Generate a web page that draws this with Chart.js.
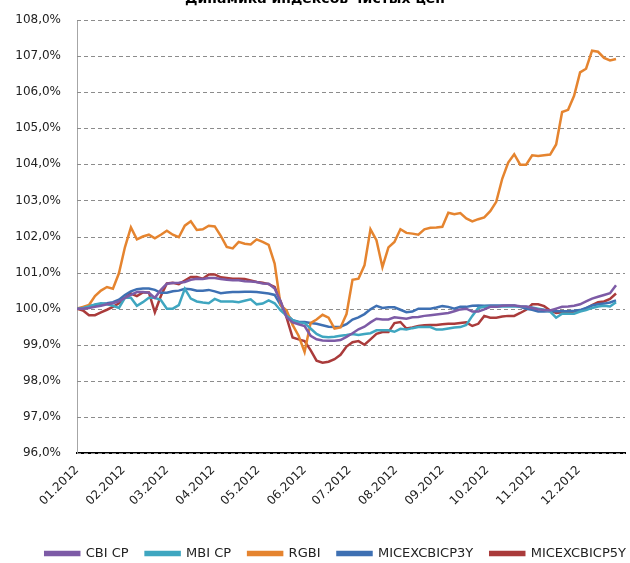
<!DOCTYPE html>
<html>
<head>
<meta charset="utf-8">
<script src="https://cdn.jsdelivr.net/npm/chart.js@4.4.1/dist/chart.umd.min.js"></script>
<style>
  body { margin: 0; background: #fff; }
  #wrap { width: 630px; height: 563px; position: relative; }
</style>
</head>
<body>
<div id="wrap"><canvas id="indexChart"></canvas></div>
<script>
// day of year 2012 for every sample (about every 4 days)
const days = [0, 4, 8, 12, 16, 20, 24, 28, 32, 36, 40, 44, 48, 52, 56, 60, 64, 68, 72, 76,
  80, 84, 88, 92, 96, 100, 104, 108, 112, 116, 120, 124, 128, 132, 136, 140, 144, 148, 152, 156,
  160, 164, 168, 172, 176, 180, 184, 188, 192, 196, 200, 204, 208, 212, 216, 220, 224, 228, 232, 236,
  240, 244, 248, 252, 256, 260, 264, 268, 272, 276, 280, 284, 288, 292, 296, 300, 304, 308, 312, 316,
  320, 324, 328, 332, 336, 340, 344, 348, 352, 356, 360];

const monthStarts = [0, 31, 60, 91, 121, 152, 182, 213, 244, 274, 305, 335];
const monthLabels = ['01.2012', '02.2012', '03.2012', '04.2012', '05.2012', '06.2012',
  '07.2012', '08.2012', '09.2012', '10.2012', '11.2012', '12.2012'];

const cbiCp = [100.0, 100.0, 100.02, 100.05, 100.08, 100.12, 100.15, 100.2, 100.3, 100.38,
  100.46, 100.46, 100.44, 100.3, 100.52, 100.69, 100.71, 100.72, 100.74, 100.8,
  100.83, 100.82, 100.85, 100.85, 100.82, 100.8, 100.79, 100.79, 100.76, 100.75,
  100.74, 100.7, 100.69, 100.56, 100.2, 99.76, 99.62, 99.57, 99.52, 99.25,
  99.15, 99.12, 99.11, 99.11, 99.13, 99.22, 99.32, 99.43, 99.5, 99.62,
  99.72, 99.7, 99.7, 99.76, 99.74, 99.72, 99.76, 99.77, 99.8, 99.82,
  99.84, 99.86, 99.88, 99.93, 99.98, 100.0, 99.92, 99.92, 99.98, 100.05,
  100.05, 100.08, 100.09, 100.09, 100.07, 100.06, 100.02, 99.98, 99.96, 99.95,
  100.0, 100.05, 100.06, 100.08, 100.12, 100.2, 100.28, 100.33, 100.38, 100.43, 100.65];

const mbiCp = [100.0, 100.02, 100.06, 100.12, 100.15, 100.12, 100.08, 100.02, 100.3, 100.3,
  100.08, 100.18, 100.3, 100.3, 100.24, 100.0, 100.0, 100.1, 100.55, 100.28,
  100.2, 100.17, 100.15, 100.27, 100.2, 100.2, 100.2, 100.18, 100.22, 100.26,
  100.12, 100.14, 100.23, 100.15, 99.95, 99.8, 99.68, 99.62, 99.6, 99.45,
  99.3, 99.22, 99.21, 99.22, 99.25, 99.27, 99.3, 99.27, 99.3, 99.32,
  99.4, 99.4, 99.4, 99.36, 99.44, 99.42, 99.46, 99.49, 99.49, 99.49,
  99.42, 99.42, 99.45, 99.48, 99.49, 99.55, 99.8, 100.02, 100.05, 100.05,
  100.05, 100.06, 100.06, 100.06, 100.06, 100.05, 100.03, 100.0, 99.97, 99.92,
  99.75, 99.86, 99.86, 99.86, 99.92, 99.96, 100.02, 100.06, 100.08, 100.06, 100.18];

const rgbi = [100.0, 100.05, 100.1, 100.35, 100.5, 100.6, 100.55, 100.98, 101.7, 102.25,
  101.92, 102.0, 102.05, 101.95, 102.05, 102.16, 102.05, 101.98, 102.3, 102.42,
  102.18, 102.2, 102.3, 102.28, 102.02, 101.71, 101.67, 101.85, 101.8, 101.78,
  101.92, 101.85, 101.77, 101.25, 100.1, 99.95, 99.55, 99.25, 98.8, 99.6,
  99.7, 99.83, 99.75, 99.45, 99.48, 99.85, 100.8, 100.83, 101.2, 102.2,
  101.9, 101.15, 101.7, 101.85, 102.2, 102.1, 102.08, 102.05, 102.2, 102.24,
  102.25, 102.27, 102.66, 102.62, 102.65, 102.5, 102.42, 102.48, 102.53, 102.7,
  102.96, 103.6, 104.05, 104.28, 103.99, 103.99, 104.25, 104.23, 104.25, 104.27,
  104.55, 105.45, 105.51, 105.9, 106.55, 106.65, 107.15, 107.12, 106.95, 106.88, 106.92];

const micex3y = [100.0, 100.02, 100.07, 100.1, 100.13, 100.15, 100.18, 100.25, 100.38, 100.48,
  100.54, 100.56, 100.56, 100.52, 100.44, 100.44, 100.48, 100.5, 100.55, 100.54,
  100.5, 100.5, 100.52, 100.48, 100.43, 100.45, 100.46, 100.46, 100.47, 100.47,
  100.46, 100.44, 100.42, 100.38, 100.1, 99.84, 99.68, 99.64, 99.63, 99.6,
  99.58, 99.54, 99.5, 99.49, 99.5, 99.57, 99.7, 99.76, 99.85, 99.98,
  100.08, 100.02, 100.04, 100.04, 99.97, 99.9, 99.92, 100.0, 100.0, 100.0,
  100.03, 100.07, 100.05, 100.0, 100.05, 100.05, 100.08, 100.09, 100.08, 100.09,
  100.09, 100.09, 100.09, 100.09, 100.05, 100.0, 99.97, 99.92, 99.92, 99.93,
  99.93, 99.93, 99.93, 99.94, 99.96, 100.02, 100.09, 100.12, 100.14, 100.17, 100.23];

const micex5y = [100.0, 99.95, 99.82, 99.82, 99.9, 99.97, 100.05, 100.15, 100.3, 100.42,
  100.35, 100.45, 100.45, 99.9, 100.35, 100.7, 100.72, 100.68, 100.78, 100.88,
  100.88, 100.83, 100.95, 100.95, 100.87, 100.85, 100.83, 100.83, 100.82, 100.78,
  100.74, 100.72, 100.68, 100.6, 100.2, 99.75, 99.2, 99.15, 99.1, 98.85,
  98.56, 98.5, 98.53, 98.6, 98.72, 98.95, 99.07, 99.1, 99.0, 99.15,
  99.3, 99.35, 99.35, 99.6, 99.63, 99.45, 99.48, 99.52, 99.54, 99.55,
  99.55, 99.57, 99.58, 99.58, 99.6, 99.62, 99.52, 99.58, 99.8, 99.75,
  99.75, 99.78, 99.8, 99.8, 99.88, 99.97, 100.12, 100.12, 100.07, 99.95,
  99.88, 99.9, 99.9, 99.92, 99.95, 100.0, 100.1, 100.18, 100.2, 100.27, 100.42];

const seriesNames = ['CBI CP', 'MBI CP', 'RGBI', 'MICEXCBICP3Y', 'MICEXCBICP5Y'];
const seriesColors = ['#7d5ba6', '#3fa6c0', '#e5842f', '#3e70b3', '#aa3b3b'];
const seriesValues = [cbiCp, mbiCp, rgbi, micex3y, micex5y];

const fontFamily = 'Tahoma, "DejaVu Sans", sans-serif';
const pad = { top: 20, right: 5, left: 0, bottom: -7 };

function toPoints(values) {
    return values.map((v, i) => ({ x: days[i], y: v }));
}

const extras = {
    id: 'extras',
    // the legend row in the reference runs almost to the right edge
    afterLayout(chart) {
        if (chart.legend) {
            chart.legend.left += 18;
            chart.legend.right += 18;
        }
    },
    // dashed horizontal grid, placed with the y scale's own ticks
    beforeDatasetsDraw(chart) {
        const { ctx, chartArea, scales } = chart;
        ctx.save();
        ctx.strokeStyle = '#8c8c8c';
        ctx.lineWidth = 1;
        ctx.setLineDash([4, 3]);
        scales.y.ticks.forEach(t => {
            const y = Math.round(scales.y.getPixelForValue(t.value)) + 0.5;
            ctx.beginPath();
            ctx.moveTo(chartArea.left, y);
            ctx.lineTo(chartArea.right, y);
            ctx.stroke();
        });
        ctx.restore();
    },
    // title sits half outside the canvas in the reference
    afterDraw(chart) {
        const ctx = chart.ctx;
        ctx.save();
        ctx.font = 'bold 14px ' + fontFamily;
        ctx.fillStyle = '#000';
        ctx.textAlign = 'center';
        ctx.textBaseline = 'alphabetic';
        ctx.fillText('Динамика индексов чистых цен', chart.width / 2, 3);
        ctx.restore();
    }
};

const datasets = seriesNames.map((name, i) => ({
    label: name,
    data: toPoints(seriesValues[i]),
    borderColor: seriesColors[i],
    backgroundColor: seriesColors[i],
    borderWidth: 2.5,
    pointRadius: 0,
    tension: 0
}));

const chart = new Chart(document.getElementById('indexChart'), {
    type: 'line',
    data: { datasets: datasets },
    plugins: [extras],
    options: {
        responsive: true,
        maintainAspectRatio: false,
        animation: false,
        layout: { padding: pad },
        plugins: {
            legend: {
                position: 'bottom',
                align: 'end',
                labels: {
                    boxWidth: 34,
                    boxHeight: 3,
                    padding: 17,
                    color: '#222',
                    font: { family: fontFamily, size: 13 }
                }
            },
            tooltip: { enabled: false }
        },
        scales: {
            x: {
                type: 'linear',
                min: 0,
                max: 366,
                afterBuildTicks(scale) {
                    scale.ticks = monthStarts.map(v => ({ value: v }));
                },
                afterFit(scale) {
                    const legendH = scale.chart.legend ? scale.chart.legend.height : 0;
                    scale.height = 563 - pad.bottom - legendH - 453;
                },
                ticks: {
                    autoSkip: false,
                    minRotation: 45,
                    maxRotation: 45,
                    padding: 2,
                    color: '#222',
                    font: { family: fontFamily, size: 12 },
                    callback: (v) => monthLabels[monthStarts.indexOf(v)] || ''
                },
                grid: { display: false },
                border: { display: true, color: '#000', width: 2 }
            },
            y: {
                min: 96,
                max: 108,
                afterFit(scale) {
                    scale.width = 77 - pad.left;
                },
                ticks: {
                    stepSize: 1,
                    padding: 8,
                    color: '#222',
                    font: { family: fontFamily, size: 12 },
                    callback: (v) => v.toFixed(1).replace('.', ',') + '%'
                },
                grid: { display: false },
                border: { display: true, color: '#a6a6a6', width: 1 }
            }
        }
    }
});
</script>
</body>
</html>
